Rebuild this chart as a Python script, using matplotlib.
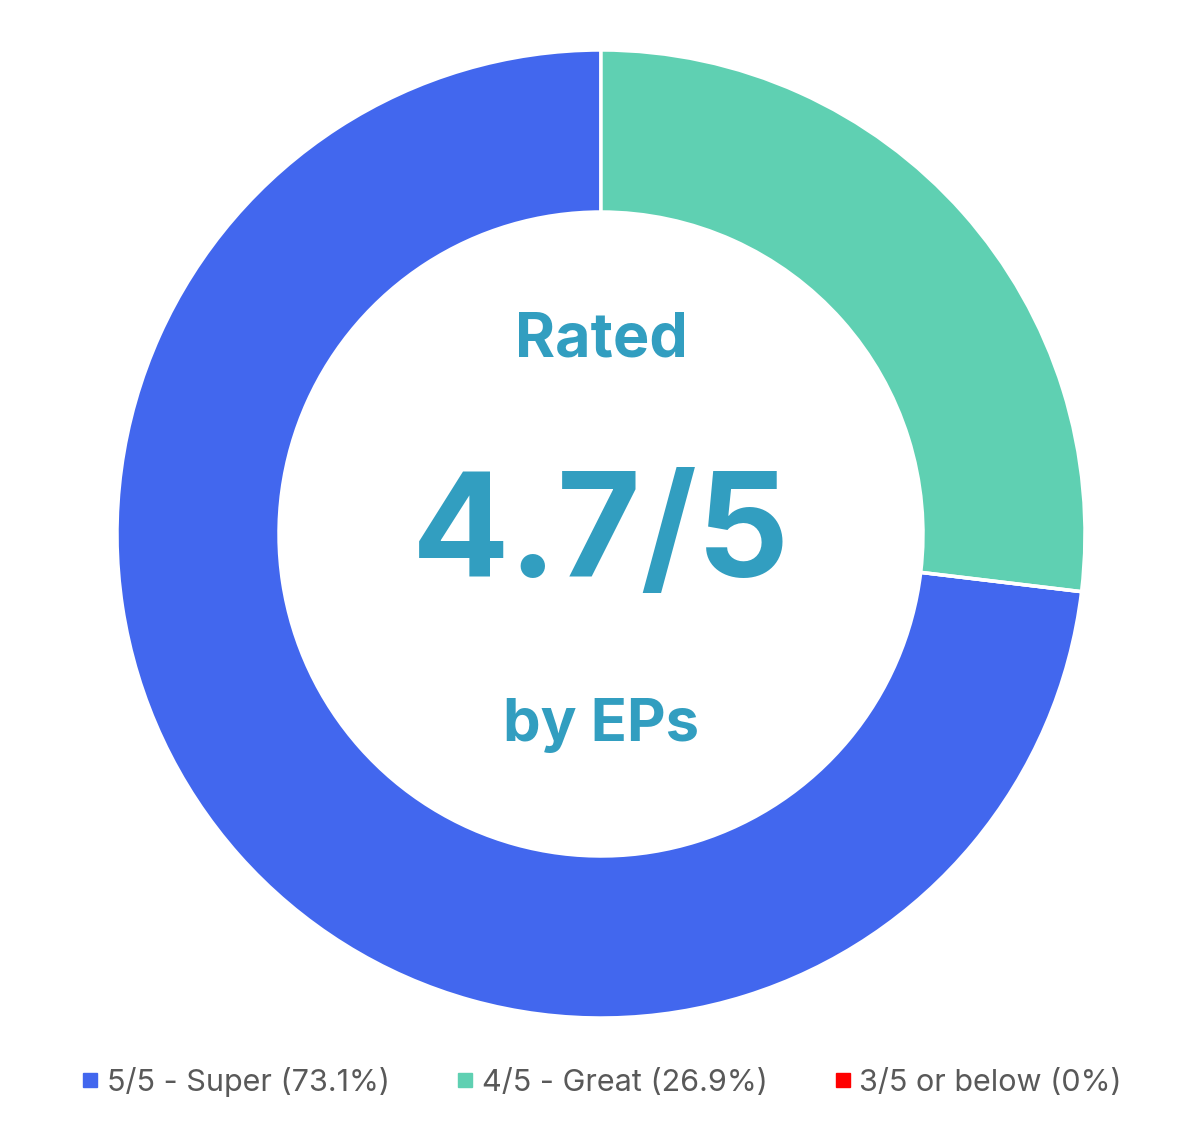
import matplotlib.pyplot as plt
from matplotlib.lines import Line2D

# Rating breakdown
labels = ['5/5 - Super (73.1%)', '4/5 - Great (26.9%)', '3/5 or below (0%)']
shares = [73.1, 26.9, 0.0]
colors = ['#4267EE', '#5FD0B2', '#FF0000']

title_color = '#329EC0'
font = 'Inter'

fig = plt.figure(figsize=(12, 11.33), dpi=100)

# donut centred at (601, 534) px, outer radius 484 px
W, H = 1200, 1133
cx, cy, r = 601, H - 534, 484
ax = fig.add_axes([(cx - r) / W, (cy - r) / H, 2 * r / W, 2 * r / H])

# blue wedge ends at the top, green runs clockwise from 12 o'clock
start = 90 - 360 * shares[1] / 100
ax.pie(shares, colors=colors, startangle=start, counterclock=False, radius=1,
       wedgeprops=dict(width=162 / 484, edgecolor='white', linewidth=2.5))
ax.set_xlim(-1, 1)
ax.set_ylim(-1, 1)
ax.set_aspect('equal')
ax.axis('off')

# centre text
ax.text(0, 0.40, 'Rated', ha='center', va='center', fontsize=44,
        fontweight='bold', color=title_color, family=font)
ax.text(0, -0.012, '4.7/5', ha='center', va='center', fontsize=104,
        fontweight='bold', color=title_color, family=font)
ax.text(0, -0.396, 'by EPs', ha='center', va='center', fontsize=43,
        fontweight='bold', color=title_color, family=font)

handles = [Line2D([], [], marker='s', linestyle='none', markersize=10,
                  markerfacecolor=c, markeredgecolor=c) for c in colors]
fig.legend(handles, labels, loc='center', bbox_to_anchor=(0.502, 0.045),
           ncol=3, frameon=False, handlelength=0.5, handletextpad=0.3,
           columnspacing=2.2, prop=dict(family=font, size=22),
           labelcolor='#595959')

fig.savefig('out.png', dpi=100, facecolor='white')
